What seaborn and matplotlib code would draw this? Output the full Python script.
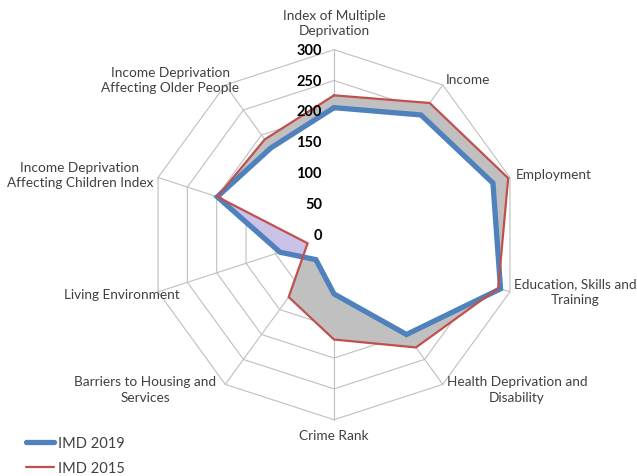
import numpy as np
import pandas as pd
import matplotlib
matplotlib.use("Agg")
import matplotlib.pyplot as plt
from matplotlib.patches import Polygon
from matplotlib.lines import Line2D
import seaborn as sns

categories = ["Index of Multiple\nDeprivation", "Income", "Employment",
              "Education, Skills and\nTraining", "Health Deprivation and\nDisability",
              "Crime Rank", "Barriers to Housing and\nServices", "Living Environment",
              "Income Deprivation\nAffecting Children Index",
              "Income Deprivation\nAffecting Older People"]
imd2019 = [206, 240, 271, 284, 200, 96, 50, 92, 199, 174]
imd2015 = [226, 264, 297, 280, 226, 170, 125, 45, 199, 191]
tick_values = [0, 50, 100, 150, 200, 250, 300]
series_names = ["IMD 2019", "IMD 2015"]

sns.set_theme(style="white")
plt.rcParams['font.family'] = ['Lato', 'DejaVu Sans']

W, H, DPI = 637, 477, 100
PX = 185 / 300.0          # pixels per unit
CX, CY = 334, 235.7       # centre in pixels

fig = plt.figure(figsize=(W / DPI, H / DPI), dpi=DPI)
ax = fig.add_axes([0, 0, 1, 1])
ax.set_xlim(-CX / PX, (W - CX) / PX)
ax.set_ylim(-(H - CY) / PX, CY / PX)
ax.set_aspect('equal')
ax.axis('off')

n = len(categories)
ang = np.deg2rad(np.arange(n) * 360.0 / n)

def xy(vals):
    v = np.asarray(vals, float)
    return v * np.sin(ang), v * np.cos(ang)

# grid rings and spokes
gc = '#bfbfbf'
for t in tick_values[1:]:
    x, y = xy([t] * n)
    ax.plot(np.append(x, x[0]), np.append(y, y[0]), color=gc, lw=0.8, zorder=0)
ox, oy = xy([tick_values[-1]] * n)
for i in range(n):
    ax.plot([0, ox[i]], [0, oy[i]], color=gc, lw=0.8, zorder=0)

# fills
x19, y19 = xy(imd2019)
x15, y15 = xy(imd2015)
p15 = Polygon(np.c_[x15, y15], closed=True, fc='#c0c0c0', ec='none', zorder=1)
ax.add_patch(p15)
p19 = Polygon(np.c_[x19, y19], closed=True, fc='#cbc2e8', ec='none', zorder=1.1)
ax.add_patch(p19)
clip = Polygon(np.c_[x15, y15], closed=True, transform=ax.transData)
pw = Polygon(np.c_[x19, y19], closed=True, fc='white', ec='none', zorder=1.2)
ax.add_patch(pw)
pw.set_clip_path(clip)

# series lines
df = pd.concat([
    pd.DataFrame({'x': np.append(x19, x19[0]), 'y': np.append(y19, y19[0]),
                  'series': series_names[0]}),
    pd.DataFrame({'x': np.append(x15, x15[0]), 'y': np.append(y15, y15[0]),
                  'series': series_names[1]}),
])
blue, red = '#4f81bd', '#c0504d'
sns.lineplot(data=df[df.series == series_names[0]], x='x', y='y', sort=False,
             estimator=None, color=blue, lw=3.8, ax=ax, zorder=3,
             solid_joinstyle='miter', legend=False)
sns.lineplot(data=df[df.series == series_names[1]], x='x', y='y', sort=False,
             estimator=None, color=red, lw=1.6, ax=ax, zorder=4,
             solid_joinstyle='miter', legend=False)
ax.set_xlabel('')
ax.set_ylabel('')

# radial tick labels
for t in tick_values:
    ax.text(-12 / PX, t, str(t), ha='right', va='center', fontsize=10.5,
            fontweight='bold', color='black', zorder=5)

# category labels (pixel anchors: x, y, ha)
label_pos = [(334, 23, 'center'), (468, 80, 'center'), (516, 175, 'left'),
             (514, 292, 'left'), (517, 390, 'center'), (334, 436, 'center'),
             (145, 390, 'center'), (180, 295, 'right'), (153, 175, 'right'),
             (170, 80, 'center')]
for lab, (px, py, ha) in zip(categories, label_pos):
    ax.text((px - CX) / PX, (CY - py) / PX, lab, ha=ha, va='center',
            fontsize=9.8, color='#404040', linespacing=1.3, multialignment='center')

handles = [Line2D([], [], color=blue, lw=3.8, solid_capstyle='round'),
           Line2D([], [], color=red, lw=1.6)]
fig.legend(handles, series_names, loc='lower left', bbox_to_anchor=(0.02, -0.026),
           frameon=False, fontsize=10.5, handlelength=1.9, handletextpad=0.3,
           labelspacing=0.8, labelcolor='#404040')

fig.savefig('out.png', dpi=DPI)
